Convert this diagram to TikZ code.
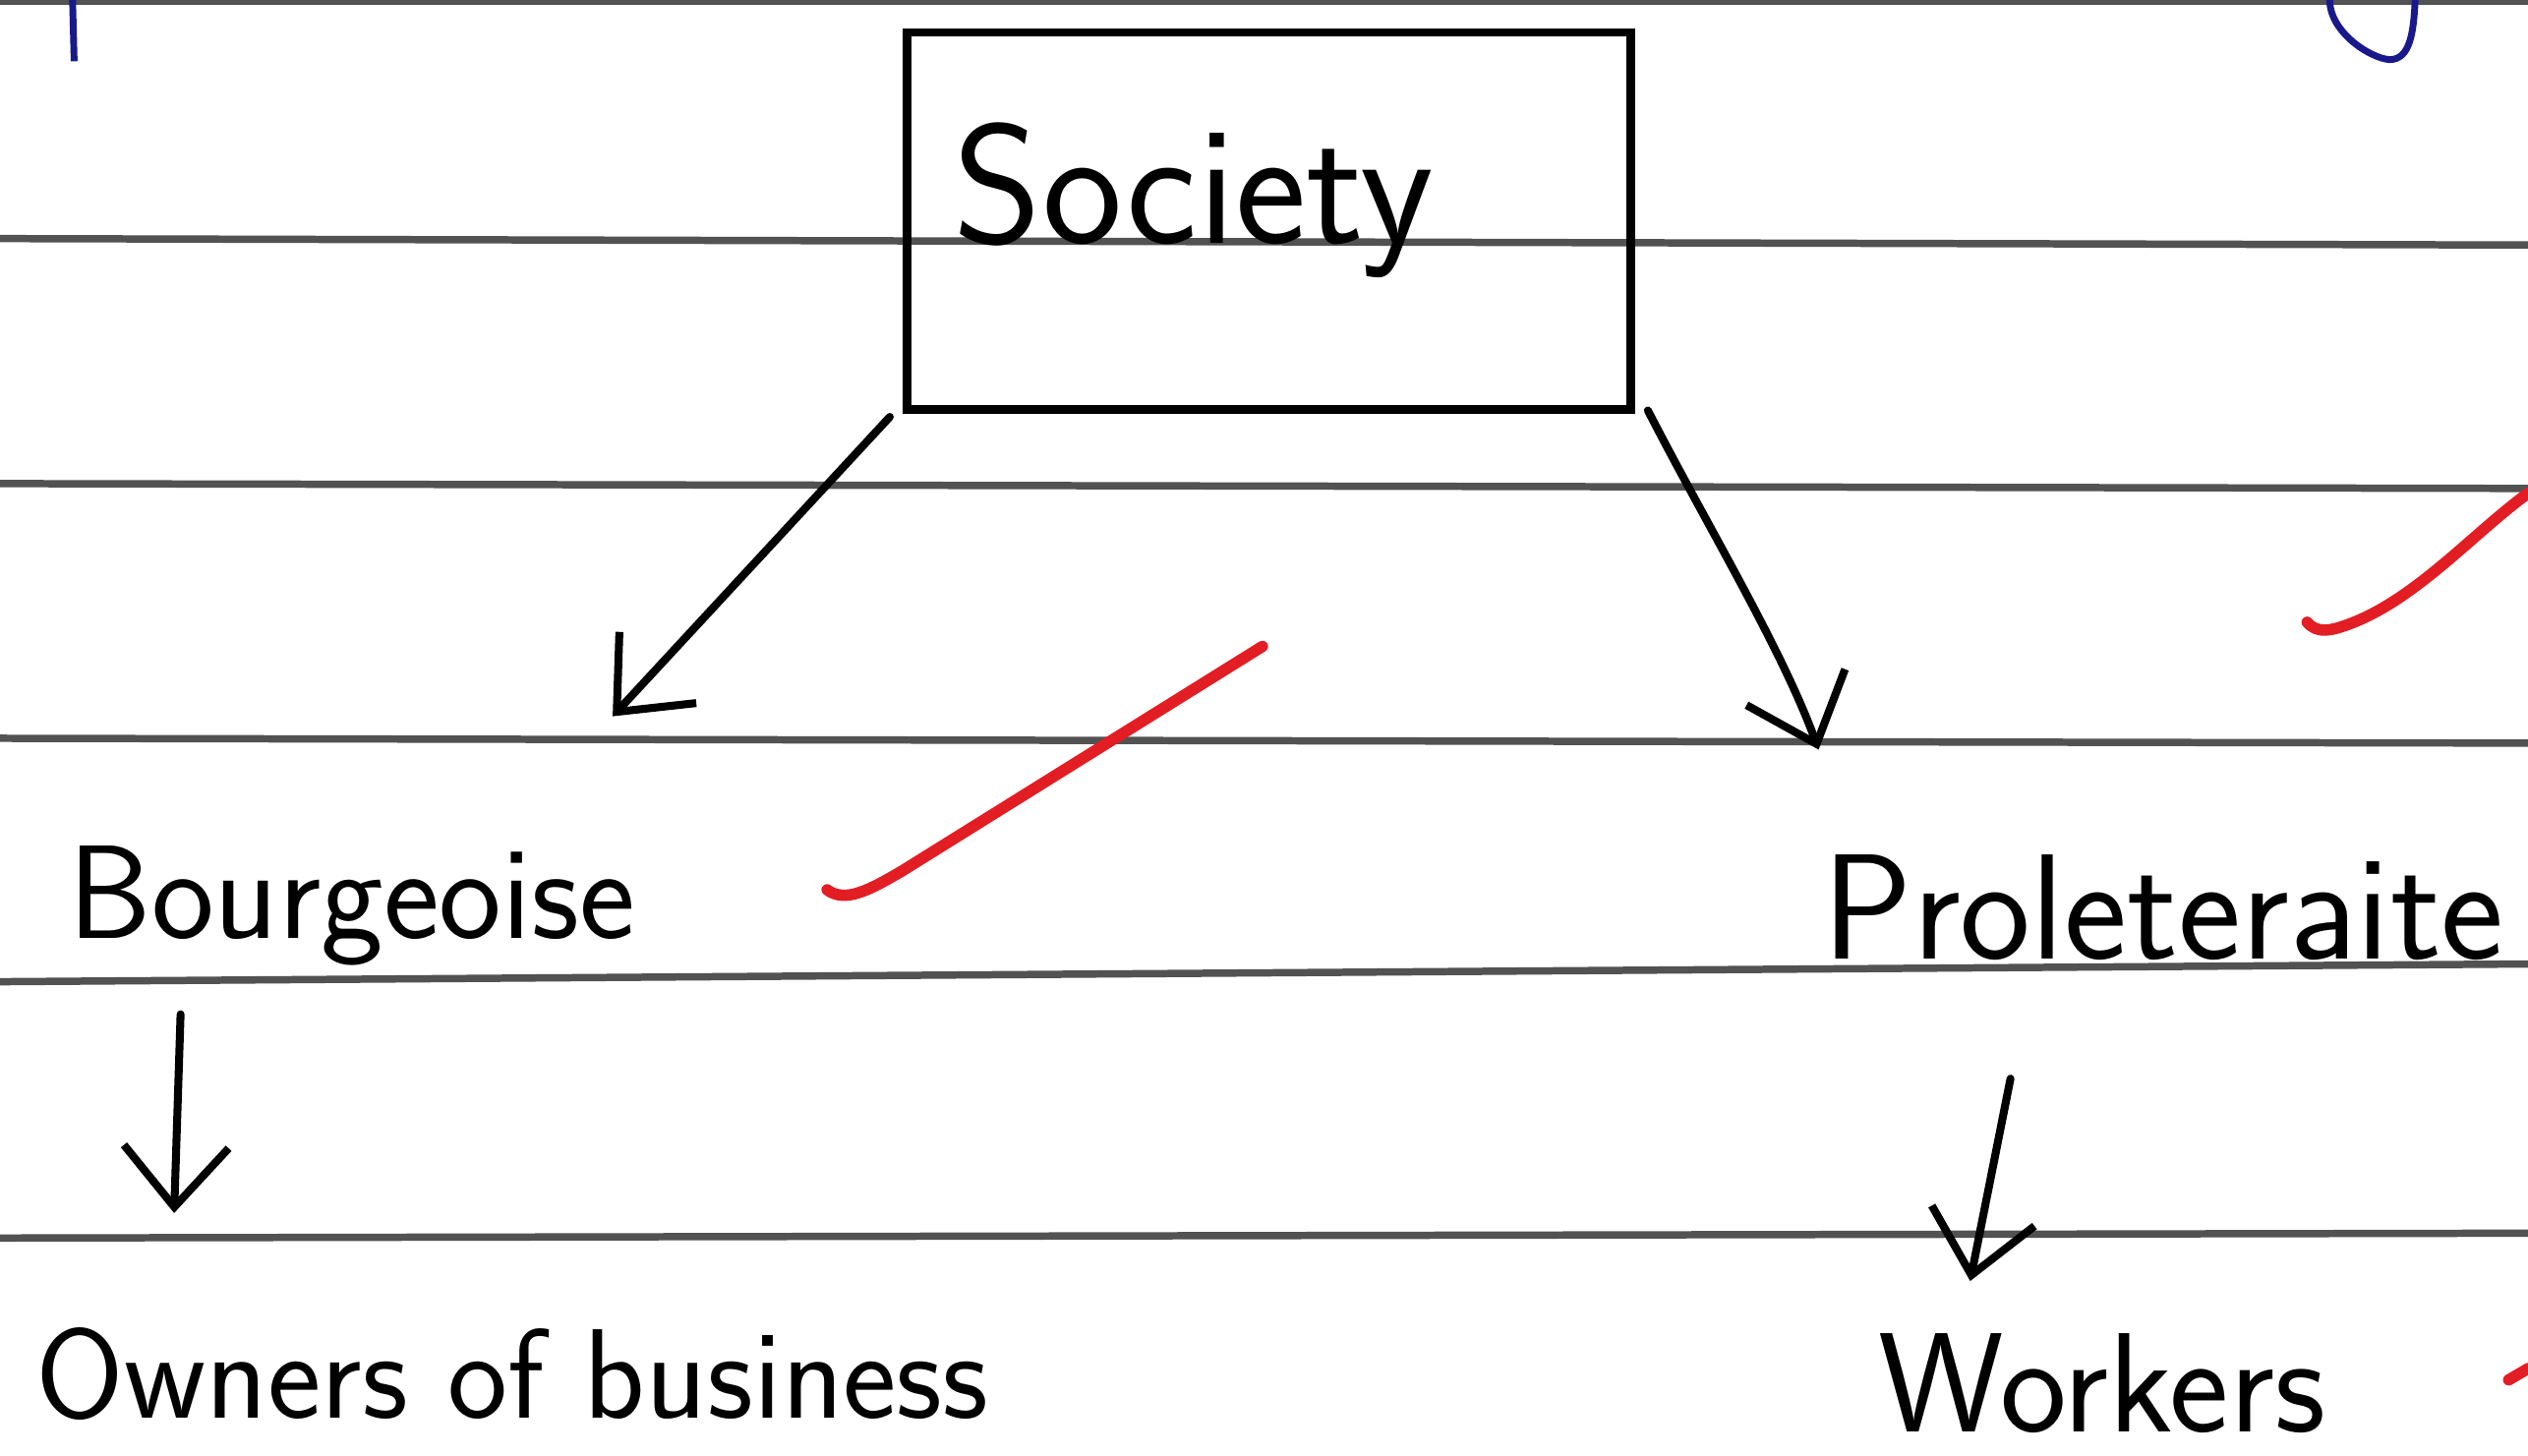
\documentclass[tikz,border=0pt]{standalone}
\usepackage{fontspec}
\usetikzlibrary{arrows.meta,calc}
\definecolor{tickred}{RGB}{226,30,36}
\definecolor{inkblue}{RGB}{25,25,140}
\tikzstyle{box} = [
  rectangle, draw, line width=3pt, minimum width=8.98cm, minimum
  height=4.68cm, text width=7.82cm, align=left, inner xsep=0.58cm,
  text depth=0.93cm, font=\sffamily\fontsize{60}{62}\selectfont
]
\tikzstyle{word} = [
  inner sep=0pt, anchor=base west, font=\sffamily\fontsize{47}{50}\selectfont
]
\tikzstyle{arrow} = [
  line width=2.8pt, line cap=round, -{Straight Barb[length=0.75cm, width=1.3cm]}
]
\tikzstyle{rule} = [line width=2.6pt, draw=black!68]
\tikzstyle{tick} = [line width=4pt, draw=tickred, line cap=round]

\begin{document}
\begin{tikzpicture}[x=0.02cm, y=-0.02cm]
    \useasboundingbox (0,0) rectangle (1568,903);

    % ruled paper
    \draw[rule] (0,1) -- (1568,1);
    \draw[rule] (0,148) -- (1568,152);
    \draw[rule] (0,300) -- (1568,303);
    \draw[rule] (0,458) -- (1568,461);
    \draw[rule] (0,609) -- (1568,598);
    \draw[rule] (0,768) -- (1568,765);

    \node[box] (society) at (787,137) {Society};

    \node[word] (bourg) at (42,582) {Bourgeoise};
    \node[word, font=\sffamily\fontsize{53}{56}\selectfont] (prol) at (1130,595) {Proleteraite};

    \node[word, font=\sffamily\fontsize{45}{48}\selectfont] (owners) at (22,880) {Owners of business};
    \node[word, font=\sffamily\fontsize{50}{54}\selectfont] (workers) at (1165,888) {Workers};

    \draw[arrow] ($(society.south west)+(-8,2)$) -- ($(bourg.north west)+(338,-80)$);
    \draw[arrow] ($(society.south east)+(8,-2)$)
      .. controls ($(society.south east)+(45,70)$) and ($(prol.north west)+(-25,-128)$)
      .. ($(prol.north west)+(-2,-65)$);
    \draw[arrow] ($(bourg.south west)+(70,30)$) -- ($(owners.north west)+(86,-71)$);
    \draw[arrow] ($(prol.south west)+(117,73)$) -- ($(workers.north west)+(57,-32)$);

    % red ticks
    \draw[tick] (513,552) .. controls (524,560) and (538,553) .. (560,540) -- (783,401);
    \draw[tick] (1431,386) .. controls (1437,393) and (1445,392) .. (1460,386)
      .. controls (1500,370) and (1535,330) .. (1568,306);
    \draw[tick] (1556,856) -- (1568,849);

    % blue marks
    \draw[inkblue, line width=2.4pt] (45,0) -- (46,38);
    \draw[inkblue, line width=2.4pt, line cap=round] (1445,0) .. controls (1445,20) and (1470,36)
      .. (1482,37) .. controls (1495,37) and (1497,20) .. (1498,0);
  \end{tikzpicture}
\end{document}
